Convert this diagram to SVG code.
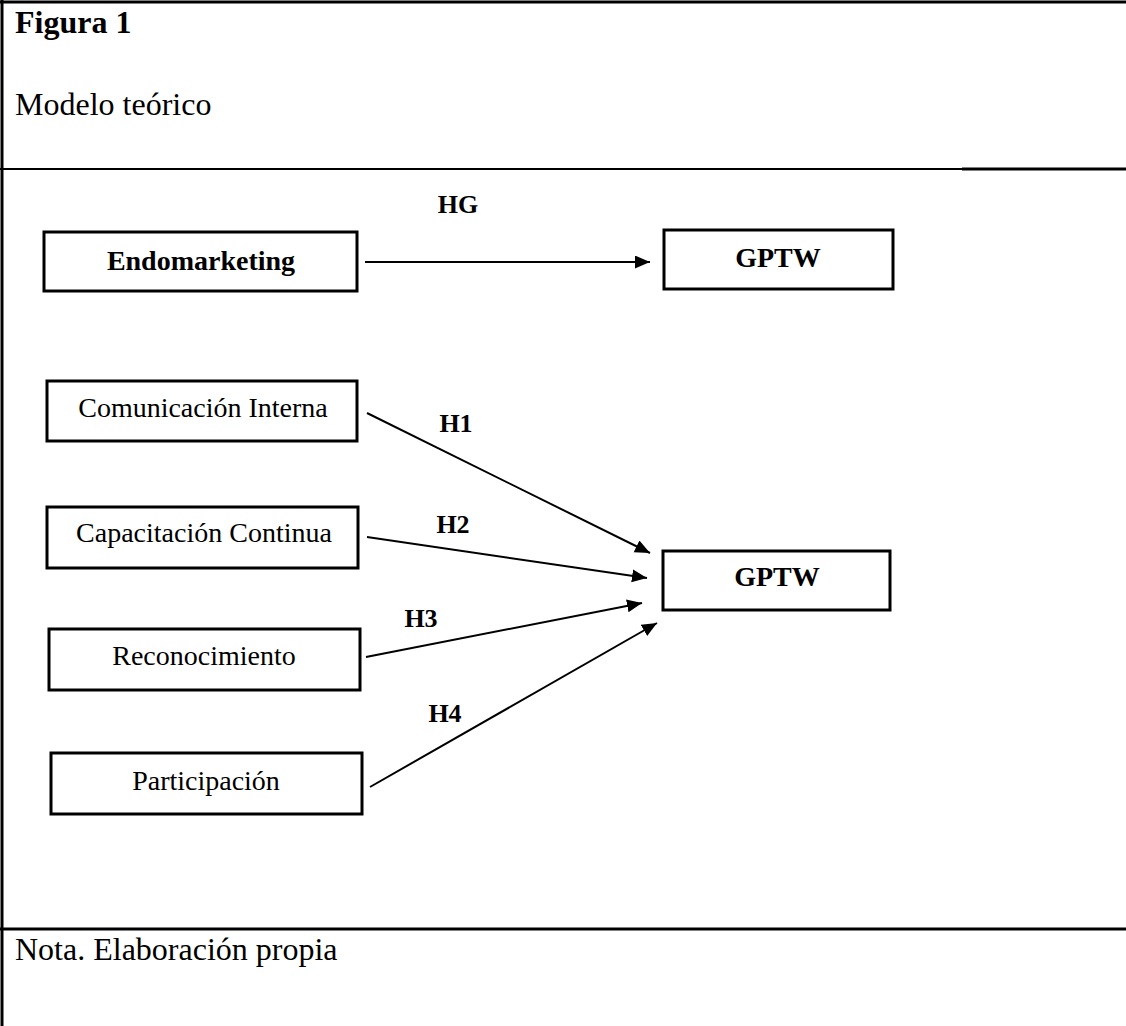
<svg xmlns="http://www.w3.org/2000/svg" width="1126" height="1026" viewBox="0 0 1126 1026">
<defs>
<style>
.t{font-family:"Liberation Serif","Times New Roman",serif;fill:#000}
.big{font-size:32px}
.bold{font-weight:bold}
.box{fill:#fff;stroke:#000;stroke-width:3}
.lbl{font-size:28px;text-anchor:middle}
.h{font-size:26px;font-weight:bold;text-anchor:middle}
.frame{stroke:#000;fill:none}
.con{stroke:#000;stroke-width:2;fill:none}
</style>
<marker id="ah" markerUnits="userSpaceOnUse" markerWidth="16" markerHeight="14" refX="15" refY="6.5" orient="auto">
<path d="M0,0 L15,6.5 L0,13 z" fill="#000"/>
</marker>
</defs>
<rect width="1126" height="1026" fill="#fff"/>
<g id="frame">
<line class="frame" x1="0" y1="2" x2="1126" y2="2" stroke-width="3"/>
<line class="frame" x1="2" y1="0" x2="2" y2="1026" stroke-width="3"/>
<line class="frame" x1="0" y1="169" x2="962" y2="169" stroke-width="2"/>
<line class="frame" x1="962" y1="169" x2="1126" y2="169" stroke-width="3"/>
<line class="frame" x1="0" y1="929" x2="1126" y2="929" stroke-width="3"/>
</g>
<text class="t big bold" x="15" y="33">Figura 1</text>
<text class="t big" x="15" y="115">Modelo teórico</text>
<text class="t big" x="15" y="960">Nota. Elaboración propia</text>
<g id="connectors">
<line class="con" x1="365" y1="262" x2="650" y2="262" stroke-width="3" marker-end="url(#ah)"/>
<line class="con" x1="367" y1="413" x2="650" y2="553" marker-end="url(#ah)"/>
<line class="con" x1="367" y1="537" x2="647" y2="578" marker-end="url(#ah)"/>
<line class="con" x1="366" y1="657" x2="642" y2="603" marker-end="url(#ah)"/>
<line class="con" x1="370" y1="787" x2="657" y2="623" marker-end="url(#ah)"/>
<text class="t h" x="458" y="213">HG</text>
<text class="t h" x="456" y="432">H1</text>
<text class="t h" x="453" y="533">H2</text>
<text class="t h" x="421" y="627">H3</text>
<text class="t h" x="445" y="722">H4</text>
</g>
<g id="endomarketing">
<rect class="box" x="44" y="232" width="313" height="59"/>
<text class="t lbl bold" x="201" y="270">Endomarketing</text>
</g>
<g id="gptw-top">
<rect class="box" x="664" y="230" width="229" height="59"/>
<text class="t lbl bold" x="778" y="267">GPTW</text>
</g>
<g id="comunicacion">
<rect class="box" x="47" y="381" width="310" height="60"/>
<text class="t lbl" x="203" y="417">Comunicación Interna</text>
</g>
<g id="capacitacion">
<rect class="box" x="47" y="507" width="311" height="61"/>
<text class="t lbl" x="204" y="542">Capacitación Continua</text>
</g>
<g id="reconocimiento">
<rect class="box" x="49" y="629" width="311" height="61"/>
<text class="t lbl" x="204" y="665">Reconocimiento</text>
</g>
<g id="participacion">
<rect class="box" x="51" y="753" width="311" height="61"/>
<text class="t lbl" x="206" y="790">Participación</text>
</g>
<g id="gptw-bottom">
<rect class="box" x="663" y="551" width="227" height="59"/>
<text class="t lbl bold" x="777" y="586">GPTW</text>
</g>
</svg>
